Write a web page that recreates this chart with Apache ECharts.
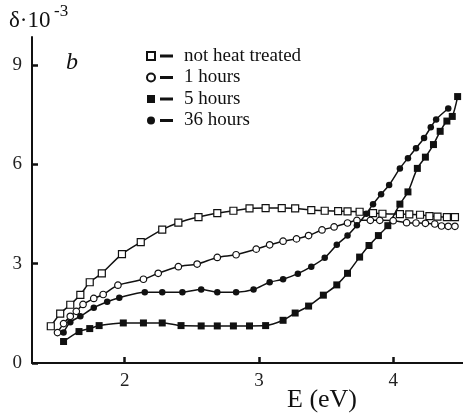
<!DOCTYPE html>
<html>
<head>
<meta charset="utf-8">
<script src="https://cdn.jsdelivr.net/npm/echarts@6/dist/echarts.min.js"></script>
<style>
  html, body { margin: 0; padding: 0; background: #fff; }
  #chart { width: 463px; height: 420px; }
</style>
</head>
<body>
<div id="chart"></div>
<script>
// Photon energy (eV) and loss factor delta (x 10^-3) for each annealing state
const seriesNames = ['not heat treated', '1 hours', '5 hours', '36 hours'];

const eNotHeat = [1.45, 1.52, 1.595, 1.67, 1.74, 1.83, 1.98, 2.12, 2.28, 2.40, 2.55, 2.69, 2.81, 2.93, 3.05, 3.17, 3.27, 3.39, 3.49, 3.59, 3.66, 3.75, 3.85, 3.92, 4.05, 4.12, 4.20, 4.27, 4.33, 4.40, 4.46];
const dNotHeat = [1.11, 1.49, 1.76, 2.06, 2.44, 2.71, 3.29, 3.65, 4.03, 4.24, 4.41, 4.53, 4.60, 4.67, 4.68, 4.68, 4.67, 4.62, 4.60, 4.59, 4.58, 4.57, 4.53, 4.51, 4.50, 4.49, 4.48, 4.44, 4.42, 4.41, 4.41];

const e1h = [1.50, 1.545, 1.595, 1.64, 1.69, 1.77, 1.84, 1.95, 2.14, 2.25, 2.40, 2.54, 2.69, 2.83, 2.98, 3.08, 3.18, 3.28, 3.37, 3.47, 3.56, 3.66, 3.73, 3.83, 3.90, 4.00, 4.10, 4.17, 4.24, 4.31, 4.36, 4.41, 4.46];
const d1h = [0.92, 1.19, 1.41, 1.56, 1.77, 1.95, 2.07, 2.35, 2.53, 2.71, 2.91, 2.99, 3.19, 3.27, 3.44, 3.57, 3.68, 3.75, 3.85, 4.02, 4.11, 4.23, 4.31, 4.31, 4.31, 4.30, 4.24, 4.23, 4.22, 4.20, 4.14, 4.13, 4.13];

const e5h = [1.545, 1.66, 1.74, 1.81, 1.99, 2.14, 2.28, 2.42, 2.57, 2.69, 2.81, 2.93, 3.05, 3.18, 3.27, 3.37, 3.48, 3.58, 3.66, 3.75, 3.82, 3.89, 3.96, 4.05, 4.11, 4.18, 4.24, 4.30, 4.35, 4.40, 4.44, 4.48];
const d5h = [0.65, 0.95, 1.04, 1.13, 1.21, 1.21, 1.21, 1.13, 1.12, 1.12, 1.12, 1.12, 1.13, 1.29, 1.51, 1.72, 2.05, 2.36, 2.71, 3.20, 3.55, 3.85, 4.15, 4.80, 5.17, 5.88, 6.22, 6.60, 7.00, 7.31, 7.45, 8.05];

const e36h = [1.545, 1.595, 1.67, 1.77, 1.87, 1.96, 2.15, 2.28, 2.43, 2.57, 2.69, 2.83, 2.96, 3.08, 3.18, 3.29, 3.39, 3.49, 3.58, 3.66, 3.73, 3.80, 3.85, 3.91, 3.97, 4.05, 4.11, 4.17, 4.23, 4.28, 4.32, 4.41];
const d36h = [0.92, 1.23, 1.41, 1.67, 1.85, 1.97, 2.14, 2.14, 2.14, 2.22, 2.14, 2.14, 2.22, 2.44, 2.53, 2.70, 2.91, 3.18, 3.57, 3.85, 4.16, 4.51, 4.80, 5.10, 5.38, 5.88, 6.19, 6.49, 6.80, 7.12, 7.36, 7.69];

const xTicks = [2, 3, 4];
const yTicks = [0, 3, 6, 9];

const pairs = (xs, ys) => xs.map((x, i) => [x, ys[i]]);

const SERIF = '"Liberation Serif", "DejaVu Serif", serif';
const INK = '#111';

function curve(name, data, symbol, size, filled) {
  return {
    name: name,
    type: 'line',
    data: data,
    smooth: 0.3,
    symbol: symbol,
    symbolSize: size,
    showAllSymbol: true,
    lineStyle: { color: INK, width: 1.5 },
    itemStyle: {
      color: filled ? INK : '#fff',
      borderColor: INK,
      borderWidth: filled ? 0 : 1.2
    },
    emphasis: { disabled: true }
  };
}

const chart = echarts.init(document.getElementById('chart'), null, { renderer: 'canvas' });

chart.setOption({
  animation: false,
  backgroundColor: '#fff',
  grid: { left: 32, right: 0, top: 37, bottom: 57 },
  xAxis: {
    type: 'value',
    min: 1.31,
    max: 4.52,
    axisLine: { lineStyle: { color: INK, width: 2 } },
    axisTick: { inside: true, length: 6, lineStyle: { color: INK, width: 2.5 }, customValues: xTicks },
    axisLabel: { customValues: xTicks, color: '#222', fontFamily: SERIF, fontSize: 19, margin: 9 },
    splitLine: { show: false }
  },
  yAxis: {
    type: 'value',
    min: 0,
    max: 9.85,
    axisLine: { show: true, lineStyle: { color: INK, width: 2 } },
    axisTick: { show: true, inside: true, length: 6, lineStyle: { color: INK, width: 2.5 }, customValues: yTicks },
    axisLabel: { customValues: yTicks, color: '#222', fontFamily: SERIF, fontSize: 19, margin: 10 },
    splitLine: { show: false }
  },
  legend: {
    orient: 'vertical',
    left: 141,
    top: 41,
    itemWidth: 8,
    itemHeight: 8,
    itemGap: 1.5,
    selectedMode: false,
    data: [
      { name: seriesNames[0], icon: 'rect' },
      { name: seriesNames[1], icon: 'circle' },
      { name: seriesNames[2], icon: 'rect' },
      { name: seriesNames[3], icon: 'circle' }
    ],
    formatter: name => '{d| }{s| }' + name,
    textStyle: {
      color: INK,
      fontFamily: SERIF,
      fontSize: 19,
      lineHeight: 20,
      rich: {
        d: { width: 13, height: 3, backgroundColor: INK, fontSize: 2, lineHeight: 3 },
        s: { width: 11, fontSize: 2 }
      }
    }
  },
  graphic: [
    { type: 'text', left: 9, top: 9, style: { text: 'δ·10', font: '23px ' + SERIF, fill: INK } },
    { type: 'text', left: 54, top: 3, style: { text: '-3', font: '17px ' + SERIF, fill: INK } },
    { type: 'text', left: 66, top: 51, style: { text: 'b', font: 'italic 24px ' + SERIF, fill: INK } },
    { type: 'text', left: 287, top: 387, style: { text: 'E (eV)', font: '26px ' + SERIF, fill: INK } }
  ],
  series: [
    curve(seriesNames[0], pairs(eNotHeat, dNotHeat), 'rect', 7, false),
    curve(seriesNames[1], pairs(e1h, d1h), 'circle', 6.5, false),
    curve(seriesNames[2], pairs(e5h, d5h), 'rect', 7, true),
    curve(seriesNames[3], pairs(e36h, d36h), 'circle', 6.5, true)
  ]
});
</script>
</body>
</html>
